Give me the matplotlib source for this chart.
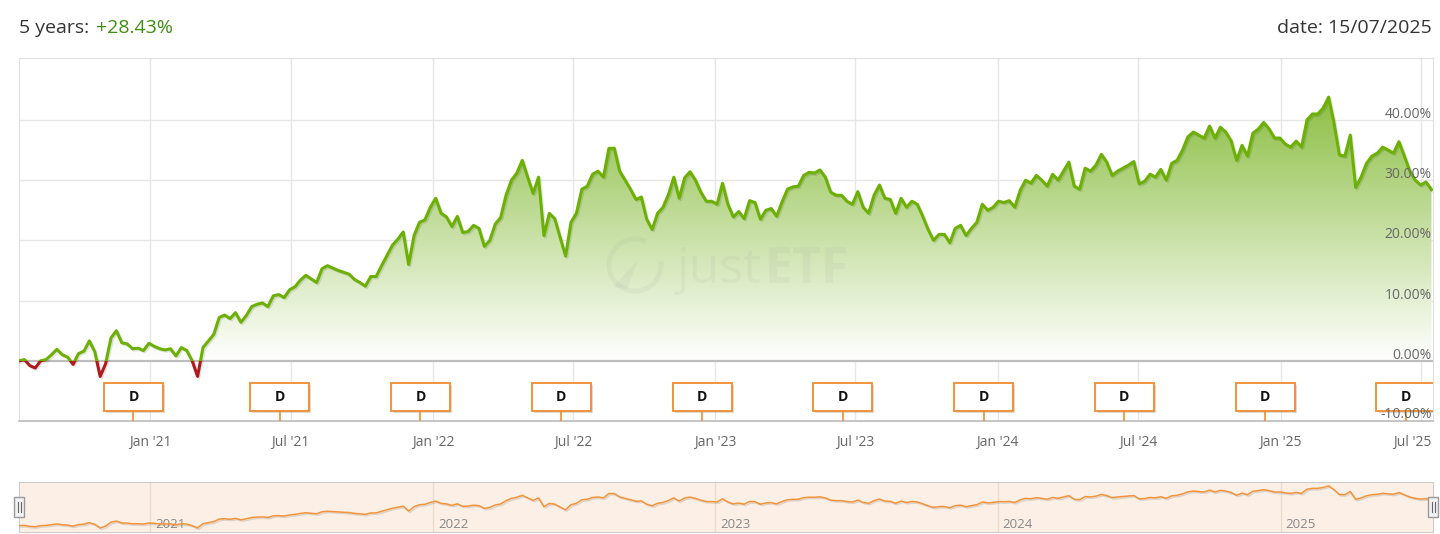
import numpy as np
import pandas as pd
import matplotlib
matplotlib.use("Agg")
import matplotlib.pyplot as plt
import matplotlib.dates as mdates
import matplotlib.patheffects as pe
from matplotlib.colors import LinearSegmentedColormap
from matplotlib.patches import Rectangle, Arc, Polygon
from matplotlib.path import Path

plt.rcParams["font.family"] = ["Open Sans", "DejaVu Sans"]

# weekly cumulative return in %
returns = [
    0.0, 0.2, -0.8, -1.2, 0.0, 0.2, 1.0, 1.9, 1.0, 0.6,
    -0.6, 1.2, 1.6, 3.3, 1.5, -2.6, -0.5, 3.8, 5.0, 3.0,
    2.8, 2.0, 2.1, 1.7, 2.9, 2.4, 2.0, 1.8, 2.0, 0.8,
    2.2, 1.7, 0.0, -2.6, 2.2, 3.3, 4.4, 7.2, 7.6, 7.0,
    8.0, 6.4, 7.5, 9.0, 9.4, 9.6, 9.0, 10.8, 11.0, 10.5,
    11.8, 12.3, 13.4, 14.2, 13.6, 13.0, 15.3, 15.8, 15.4, 15.0,
    14.7, 14.4, 13.5, 13.0, 12.4, 14.0, 14.0, 15.8, 17.5, 19.2,
    20.2, 21.4, 16.0, 20.8, 23.0, 23.4, 25.5, 27.0, 24.5, 23.9,
    22.3, 24.0, 21.3, 21.5, 22.5, 22.0, 19.0, 20.0, 22.7, 23.8,
    27.5, 30.0, 31.2, 33.3, 30.5, 27.8, 30.5, 20.8, 24.5, 23.6,
    20.5, 17.4, 23.0, 24.5, 28.5, 29.0, 31.0, 31.5, 30.5, 35.3,
    35.3, 31.5, 30.0, 28.5, 26.8, 27.2, 23.5, 21.8, 24.5, 25.5,
    27.6, 30.5, 27.0, 30.4, 31.4, 30.0, 28.0, 26.5, 26.5, 26.0,
    29.5, 26.0, 23.9, 24.8, 23.6, 26.6, 26.3, 23.5, 25.0, 25.3,
    24.0, 26.4, 28.5, 28.9, 29.0, 30.8, 31.3, 31.2, 31.7, 30.5,
    28.0, 27.5, 27.5, 26.5, 26.0, 28.1, 25.5, 24.5, 27.5, 29.2,
    27.0, 26.8, 24.5, 27.0, 25.5, 26.5, 26.0, 24.0, 21.8, 20.0,
    21.0, 21.0, 19.6, 22.0, 22.5, 20.8, 22.0, 23.0, 26.0, 25.0,
    25.5, 26.5, 26.3, 26.6, 25.5, 28.3, 30.0, 29.5, 30.8, 30.0,
    29.0, 31.0, 30.0, 31.5, 33.0, 29.0, 28.5, 32.0, 31.5, 32.5,
    34.3, 33.0, 30.8, 31.5, 32.0, 32.5, 33.1, 29.4, 29.8, 31.0,
    30.5, 31.8, 30.0, 32.8, 33.3, 35.0, 37.2, 38.0, 37.5, 37.0,
    39.0, 37.0, 38.8, 38.0, 36.5, 33.3, 35.8, 34.0, 37.8, 38.5,
    39.6, 38.5, 37.0, 37.0, 36.0, 35.5, 36.5, 35.5, 40.0, 41.0,
    41.0, 42.0, 43.8, 39.5, 34.2, 34.0, 37.5, 28.8, 30.5, 32.8,
    34.0, 34.5, 35.5, 35.0, 34.5, 36.4, 34.0, 31.5, 30.0, 29.2,
    29.7, 28.43,
]
dates = pd.date_range("2020-07-15", "2025-07-15", periods=len(returns))

dividend_dates = pd.to_datetime([
    "2020-12-10", "2021-06-17", "2021-12-16", "2022-06-16", "2022-12-15",
    "2023-06-15", "2023-12-14", "2024-06-13", "2024-12-12", "2025-06-12",
])
month_ticks = pd.to_datetime([
    "2021-01-01", "2021-07-01", "2022-01-01", "2022-07-01", "2023-01-01",
    "2023-07-01", "2024-01-01", "2024-07-01", "2025-01-01", "2025-07-01",
])
month_labels = ["Jan '21", "Jul '21", "Jan '22", "Jul '22", "Jan '23",
                "Jul '23", "Jan '24", "Jul '24", "Jan '25", "Jul '25"]
year_ticks = pd.to_datetime(["2021-01-01", "2022-01-01", "2023-01-01",
                             "2024-01-01", "2025-01-01"])
year_labels = ["2021", "2022", "2023", "2024", "2025"]
y_ticks = [-10, 0, 10, 20, 30, 40]

period_text = "5 years:"
period_return = "+28.43%"
date_text = "date: 15/07/2025"

W, H = 1440, 534
GREEN = "#6cb004"
RED = "#b3191b"
ORANGE = "#f08c2e"


def fx(px):
    return px / W


def fy(py):
    return 1 - py / H


fig = plt.figure(figsize=(W / 100, H / 100), dpi=100)
ax = fig.add_axes([fx(19), fy(421), 1414 / W, 363 / H])
nav = fig.add_axes([fx(19), fy(532), 1414 / W, 50 / H])

xn = mdates.date2num(dates)
x0 = mdates.date2num(pd.Timestamp("2020-07-15"))
x1 = mdates.date2num(pd.Timestamp("2025-07-17"))

# --- main chart ---
for t in month_ticks:
    ax.axvline(mdates.date2num(t), color="#e6e6e6", lw=1, zorder=0)
for v in y_ticks[2:]:
    ax.axhline(v, color="#e6e6e6", lw=1, zorder=0)

cmap = LinearSegmentedColormap.from_list("fill", ["#ffffff", "#8dbf45"])
grad = np.linspace(0, 1, 256).reshape(-1, 1)
im = ax.imshow(grad, cmap=cmap, origin="lower", aspect="auto",
               extent=[x0, x1, 0, max(returns)], zorder=1, interpolation="bilinear")
area = ax.fill_between(xn, returns, 0, facecolor="none", edgecolor="none")
im.set_clip_path(Path.make_compound_path(*area.get_paths()), ax.transData)

ax.axhline(0, color="#bdbdbd", lw=1.6, zorder=3)

shadow = [pe.SimpleLineShadow(offset=(1, -1), alpha=0.1, shadow_color="k"), pe.Normal()]
green, = ax.plot(xn, returns, color=GREEN, lw=2.2, zorder=4,
                 solid_joinstyle="round", path_effects=shadow)
green.set_clip_path(Rectangle((x0, 0), x1 - x0, 100, transform=ax.transData))
red, = ax.plot(xn, returns, color=RED, lw=2.2, zorder=4,
               solid_joinstyle="round", path_effects=shadow)
red.set_clip_path(Rectangle((x0, -100), x1 - x0, 100, transform=ax.transData))

# watermark
wm_c, wm_a = "#8a8a8a", 0.08
t_just = ax.text(fx(677), fy(283), "just", fontsize=36, va="baseline",
                 color=wm_c, alpha=wm_a, zorder=2, transform=fig.transFigure)
ax.annotate("ETF", xy=(1, 0), xycoords=t_just, xytext=(3, 0),
            textcoords="offset pixels", fontsize=36, fontweight="bold",
            va="bottom", color=wm_c, alpha=wm_a, zorder=2)
ax.add_patch(Arc((fx(635), fy(265)), 52 / W, 52 / H, theta1=80, theta2=380,
                 lw=3.5, color=wm_c, alpha=wm_a, transform=fig.transFigure, zorder=2))
ax.add_patch(Polygon([(fx(613), fy(287)), (fx(638), fy(260)), (fx(627), fy(289))],
                     closed=True, color=wm_c, alpha=wm_a, lw=0,
                     transform=fig.transFigure, zorder=2))

# dividend markers
box_w = 59 / 0.7733
for d in dividend_dates:
    dn = mdates.date2num(d)
    ax.add_patch(Rectangle((dn - box_w / 2, -8.33), box_w, 4.67, facecolor="white",
                           edgecolor=ORANGE, lw=1.3, zorder=6,
                           path_effects=[pe.SimplePatchShadow(offset=(1.5, -1.5), alpha=0.2),
                                         pe.Normal()]))
    ax.text(dn, -6.0, "D", ha="center", va="center", fontsize=10,
            fontweight="bold", color="#111111", zorder=7)
    ax.plot([dn, dn], [-8.33, -10], color=ORANGE, lw=1.2, zorder=6)

for v in y_ticks:
    ax.annotate(f"{v:.2f}%", xy=(1, v), xycoords=("axes fraction", "data"),
                xytext=(-1, 2 if v > -10 else 3), textcoords="offset pixels",
                ha="right", va="baseline", fontsize=10, color="#666666", zorder=8)

for i, (t, lab) in enumerate(zip(month_ticks, month_labels)):
    if i == len(month_ticks) - 1:
        ax.annotate(lab, xy=(1, 0), xycoords="axes fraction", xytext=(-1, -25),
                    textcoords="offset pixels", ha="right", va="baseline",
                    fontsize=10, color="#666666", annotation_clip=False)
    else:
        ax.annotate(lab, xy=(mdates.date2num(t), 0), xycoords=("data", "axes fraction"),
                    xytext=(0, -25), textcoords="offset pixels", ha="center",
                    va="baseline", fontsize=10, color="#666666", annotation_clip=False)

ax.set_xlim(x0, x1)
ax.set_ylim(-10, 50.3)
ax.set_xticks([])
ax.set_yticks([])
for s in ["top", "left", "right"]:
    ax.spines[s].set_color("#e0e0e0")
ax.spines["bottom"].set_color("#bbbbbb")
ax.spines["bottom"].set_linewidth(1.2)

# --- navigator ---
nav.set_facecolor("#fcf0e6")
for t in year_ticks:
    nav.axvline(mdates.date2num(t), color="#e9dccf", lw=1, zorder=0)
for t, lab in zip(year_ticks, year_labels):
    nav.annotate(lab, xy=(mdates.date2num(t), 0), xycoords=("data", "axes fraction"),
                 xytext=(5, 4), textcoords="offset pixels", ha="left", va="baseline",
                 fontsize=9.5, color="#888888")
nav.plot(xn, returns, color="#f3943a", lw=1.1, zorder=3,
         path_effects=[pe.SimpleLineShadow(offset=(1, -1), alpha=0.12), pe.Normal()])
nav.set_xlim(x0, x1)
nav.set_ylim(-7, 48)
nav.set_xticks([])
nav.set_yticks([])
for s in nav.spines.values():
    s.set_color("#cccccc")

for cx in (19, 1433):
    fig.add_artist(Rectangle((fx(cx - 5), fy(517)), 10 / W, 20 / H, facecolor="#f2f2f2",
                             edgecolor="#999999", lw=1, transform=fig.transFigure, zorder=10))
    for dx in (-1.5, 1.5):
        fig.add_artist(plt.Line2D([fx(cx + dx), fx(cx + dx)], [fy(502), fy(512)],
                                  color="#666666", lw=0.8, transform=fig.transFigure, zorder=11))

# --- header ---
t1 = fig.text(fx(19), fy(33.3), period_text, fontsize=14, color="#333333", va="baseline")
ax.annotate(period_return, xy=(1, 0), xycoords=t1, xytext=(7, 0),
            textcoords="offset pixels", fontsize=14, color="#3d8f0f",
            va="bottom", ha="left", annotation_clip=False)
fig.text(fx(1432), fy(33.3), date_text, fontsize=14, color="#333333",
         ha="right", va="baseline")

fig.savefig("out.png", dpi=100)
